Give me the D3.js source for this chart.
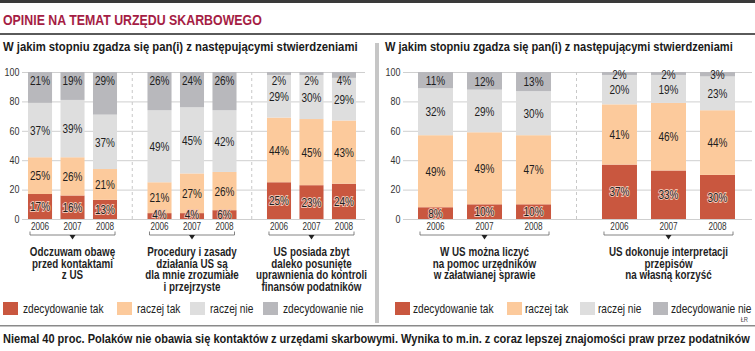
<!DOCTYPE html>
<html>
<head>
<meta charset="utf-8">
<script src="https://cdn.jsdelivr.net/npm/d3@7"></script>
<style>
    body { margin: 0; background: #fff; }
</style>
</head>
<body>
<div id="canvas"></div>
<script>
"use strict"

/* Data */
let years = ["2006", "2007", "2008"];
let answers = ["zdecydowanie tak", "raczej tak", "raczej nie", "zdecydowanie nie"];
let yTicks = [0, 20, 40, 60, 80, 100];

/* one row per year, values in the order of answers */
let fearValues = [[17, 25, 37, 21], [16, 26, 39, 19], [13, 21, 37, 29]];
let proceduresValues = [[4, 21, 49, 26], [4, 27, 45, 24], [6, 26, 42, 26]];
let powersValues = [[25, 44, 29, 2], [23, 45, 30, 2], [24, 43, 29, 4]];
let helpValues = [[8, 49, 32, 11], [10, 49, 29, 12], [10, 47, 30, 13]];
let interpretValues = [[37, 41, 20, 2], [33, 46, 19, 2], [30, 44, 23, 3]];

let leftStatements = [
    ["Odczuwam obawę", "przed kontaktami", "z US"],
    ["Procedury i zasady", "działania US są", "dla mnie zrozumiałe", "i przejrzyste"],
    ["US posiada zbyt", "daleko posunięte", "uprawnienia do kontroli", "finansów podatników"]
];
let rightStatements = [
    ["W US można liczyć", "na pomoc urzędników", "w załatwianej sprawie"],
    ["US dokonuje interpretacji", "przepisów", "na własną korzyść"]
];

let title = "OPINIE NA TEMAT URZĘDU SKARBOWEGO";
let subtitle = "W jakim stopniu zgadza się pan(i) z następującymi stwierdzeniami";
let footer = "Niemal 40 proc. Polaków nie obawia się kontaktów z urzędami skarbowymi. Wynika to m.in. z coraz lepszej znajomości praw przez podatników";
let credit = "ŁR";

/* Styles */
let colors = ["#c9573f", "#fcca9c", "#dedede", "#b8b8bc"];
let FONT = '"Liberation Sans", Arial, sans-serif';

let svgWidth = 755;
let svgHeight = 351;

let svg = d3.select("#canvas")
    .append("svg")
    .attr("width", svgWidth)
    .attr("height", svgHeight)
    .style("font-family", FONT);

/* helper: horizontally squeezed text anchored at (x, y) */
function narrowText(parent, x, y, size, sx) {
    return parent.append("text")
        .attr("transform", "translate(" + x + "," + y + ") scale(" + sx + ",1)")
        .attr("font-size", size);
}

/* helper: squeeze a text so that it spans the given width */
function fitText(sel, x, y, width) {
    let w = sel.node().getComputedTextLength();
    sel.attr("transform", "translate(" + x + "," + y + ") scale(" + (width / w) + ",1)");
    return sel;
}

/* Header rules and title */
svg.append("rect").attr("x", 0).attr("y", 0).attr("width", svgWidth).attr("height", 3).attr("fill", "#3a3a3a");
svg.append("rect").attr("x", 0).attr("y", 33).attr("width", svgWidth).attr("height", 2).attr("fill", "#5a5a5a");

let titleText = svg.append("text")
    .attr("font-size", 15)
    .attr("font-weight", "bold")
    .attr("fill", "#a51d44")
    .text(title);
fitText(titleText, 3, 25, 259);

/* Vertical divider between the two panels */
svg.append("rect").attr("x", 375).attr("y", 43).attr("width", 4).attr("height", 280).attr("fill", "#c6c6c6");

/* Footer rule, credit and footer text */
svg.append("rect").attr("x", 0).attr("y", 325).attr("width", svgWidth).attr("height", 1.5).attr("fill", "#8a8a8a");

narrowText(svg, 748, 322, 7, 0.82)
    .attr("text-anchor", "end")
    .attr("fill", "#444")
    .text(credit);

let footerText = svg.append("text")
    .attr("font-size", 13.5)
    .attr("font-weight", "bold")
    .attr("fill", "#1a1a1a")
    .text(footer);
fitText(footerText, 3, 343, 747);

/* Shared vertical scale */
let yScale = d3.scaleLinear()
    .domain([0, 100])
    .range([219, 72]);

/* Panel layout */
let panels = [
    {
        statements: leftStatements,
        values: [fearValues, proceduresValues, powersValues],
        x0: 28, x1: 356, groupPad: 0.255, yearPad: 0.26,
        axisX: 22, gridEnd: 365,
        subtitleX: 3, subtitleLength: 355,
        topFixed: true, topMin: 8, gap: 15,
        legendX: [3, 117, 190, 263], legendGap: 20
    },
    {
        statements: rightStatements,
        values: [helpValues, interpretValues],
        x0: 418, x1: 735, groupPad: 0.277, yearPad: 0.286,
        axisX: 403, gridEnd: 752,
        subtitleX: 385, subtitleLength: 348,
        topFixed: false, topMin: 2, gap: 14.6,
        legendX: [395, 507, 580, 653], legendGap: 18
    }
];

let stack = d3.stack().keys(answers);

panels.forEach(function (p) {
    let g = svg.append("g");

    let sub = g.append("text")
        .attr("font-size", 13.5)
        .attr("font-weight", "bold")
        .attr("fill", "#1a1a1a")
        .text(subtitle);
    fitText(sub, p.subtitleX, 51, p.subtitleLength);

    let xGroup = d3.scaleBand()
        .domain(d3.range(p.statements.length))
        .range([p.x0, p.x1])
        .paddingInner(p.groupPad)
        .paddingOuter(0);

    let xYear = d3.scaleBand()
        .domain(years)
        .range([0, xGroup.bandwidth()])
        .paddingInner(p.yearPad)
        .paddingOuter(0);

    /* y axis with grid lines */
    let axis = d3.axisLeft(yScale)
        .tickValues(yTicks)
        .tickSize(-(p.gridEnd - p.axisX))
        .tickPadding(3);

    let ag = g.append("g")
        .attr("transform", "translate(" + p.axisX + ",0)")
        .call(axis);
    ag.select(".domain").remove();
    ag.selectAll(".tick line").attr("stroke", "#cfcfcf");
    ag.selectAll(".tick text")
        .attr("font-size", 10.5)
        .attr("font-family", FONT)
        .attr("transform", "scale(0.85,1)")
        .attr("fill", "#333");

    /* dashed separators between statements */
    for (let i = 1; i < p.statements.length; i++) {
        let sx = (xGroup(i - 1) + xGroup.bandwidth() + xGroup(i)) / 2;
        g.append("line")
            .attr("x1", sx).attr("x2", sx)
            .attr("y1", yScale(100)).attr("y2", yScale(0))
            .attr("stroke", "#c8c8c8")
            .attr("stroke-dasharray", "3,3");
    }

    p.statements.forEach(function (lines, i) {
        let gx = xGroup(i);
        let rows = p.values[i].map(function (v, j) {
            let row = { year: years[j] };
            answers.forEach(function (a, k) { row[a] = v[k]; });
            return row;
        });
        let series = stack(rows);

        /* stacked segments */
        series.forEach(function (layer, k) {
            g.selectAll(null)
                .data(layer)
                .join("rect")
                .attr("x", function (d) { return gx + xYear(d.data.year); })
                .attr("y", function (d) { return yScale(d[1]); })
                .attr("width", xYear.bandwidth())
                .attr("height", function (d) { return yScale(d[0]) - yScale(d[1]); })
                .attr("fill", colors[k]);
        });

        /* percent labels, placed from the top down */
        years.forEach(function (yr, j) {
            let cx = gx + xYear(yr) + xYear.bandwidth() / 2;
            let prev = null;
            for (let k = answers.length - 1; k >= 0; k--) {
                let d = series[k][j];
                let c = (yScale(d[0]) + yScale(d[1])) / 2;
                let ly;
                if (k === answers.length - 1) {
                    ly = p.topFixed ? yScale(100) + p.topMin : Math.max(c, yScale(100) + p.topMin);
                } else {
                    ly = Math.max(c, prev + p.gap);
                }
                if (k === 0) ly = Math.min(ly, yScale(0) - 5);
                prev = ly;

                let t = narrowText(g, cx, ly, 13, 0.77)
                    .attr("dy", "0.36em")
                    .attr("text-anchor", "middle")
                    .attr("fill", "#1e1e1e")
                    .text(d.data[answers[k]] + "%");
                if (k === 0) {
                    t.attr("stroke", "#f1c3b2")
                        .attr("stroke-width", 2)
                        .attr("paint-order", "stroke");
                }
            }

            /* year label */
            narrowText(g, cx, 229.5, 10, 0.82)
                .attr("text-anchor", "middle")
                .attr("fill", "#333")
                .text(yr);
        });

        /* bracket with a small arrow */
        let bx0 = gx + 2;
        let bx1 = gx + xGroup.bandwidth() - 2;
        let bc = gx + xGroup.bandwidth() / 2;
        g.append("path")
            .attr("d", "M" + bx0 + ",231.5V235H" + bx1 + "V231.5")
            .attr("fill", "none")
            .attr("stroke", "#666")
            .attr("stroke-width", 0.8);
        g.append("path")
            .attr("d", "M" + (bc - 3) + ",235L" + (bc + 3) + ",235L" + bc + ",239.5Z")
            .attr("fill", "#222");

        /* statement text */
        lines.forEach(function (line, n) {
            narrowText(g, bc, 256 + n * 11.6, 12, 0.82)
                .attr("text-anchor", "middle")
                .attr("font-weight", "bold")
                .attr("fill", "#1f1f1f")
                .text(line);
        });
    });

    /* legend */
    answers.forEach(function (a, k) {
        g.append("rect")
            .attr("x", p.legendX[k])
            .attr("y", 302)
            .attr("width", 15)
            .attr("height", 13)
            .attr("fill", colors[k]);
        narrowText(g, p.legendX[k] + p.legendGap, 313, 13, 0.78)
            .attr("fill", "#222")
            .text(a);
    });
});
</script>
</body>
</html>
